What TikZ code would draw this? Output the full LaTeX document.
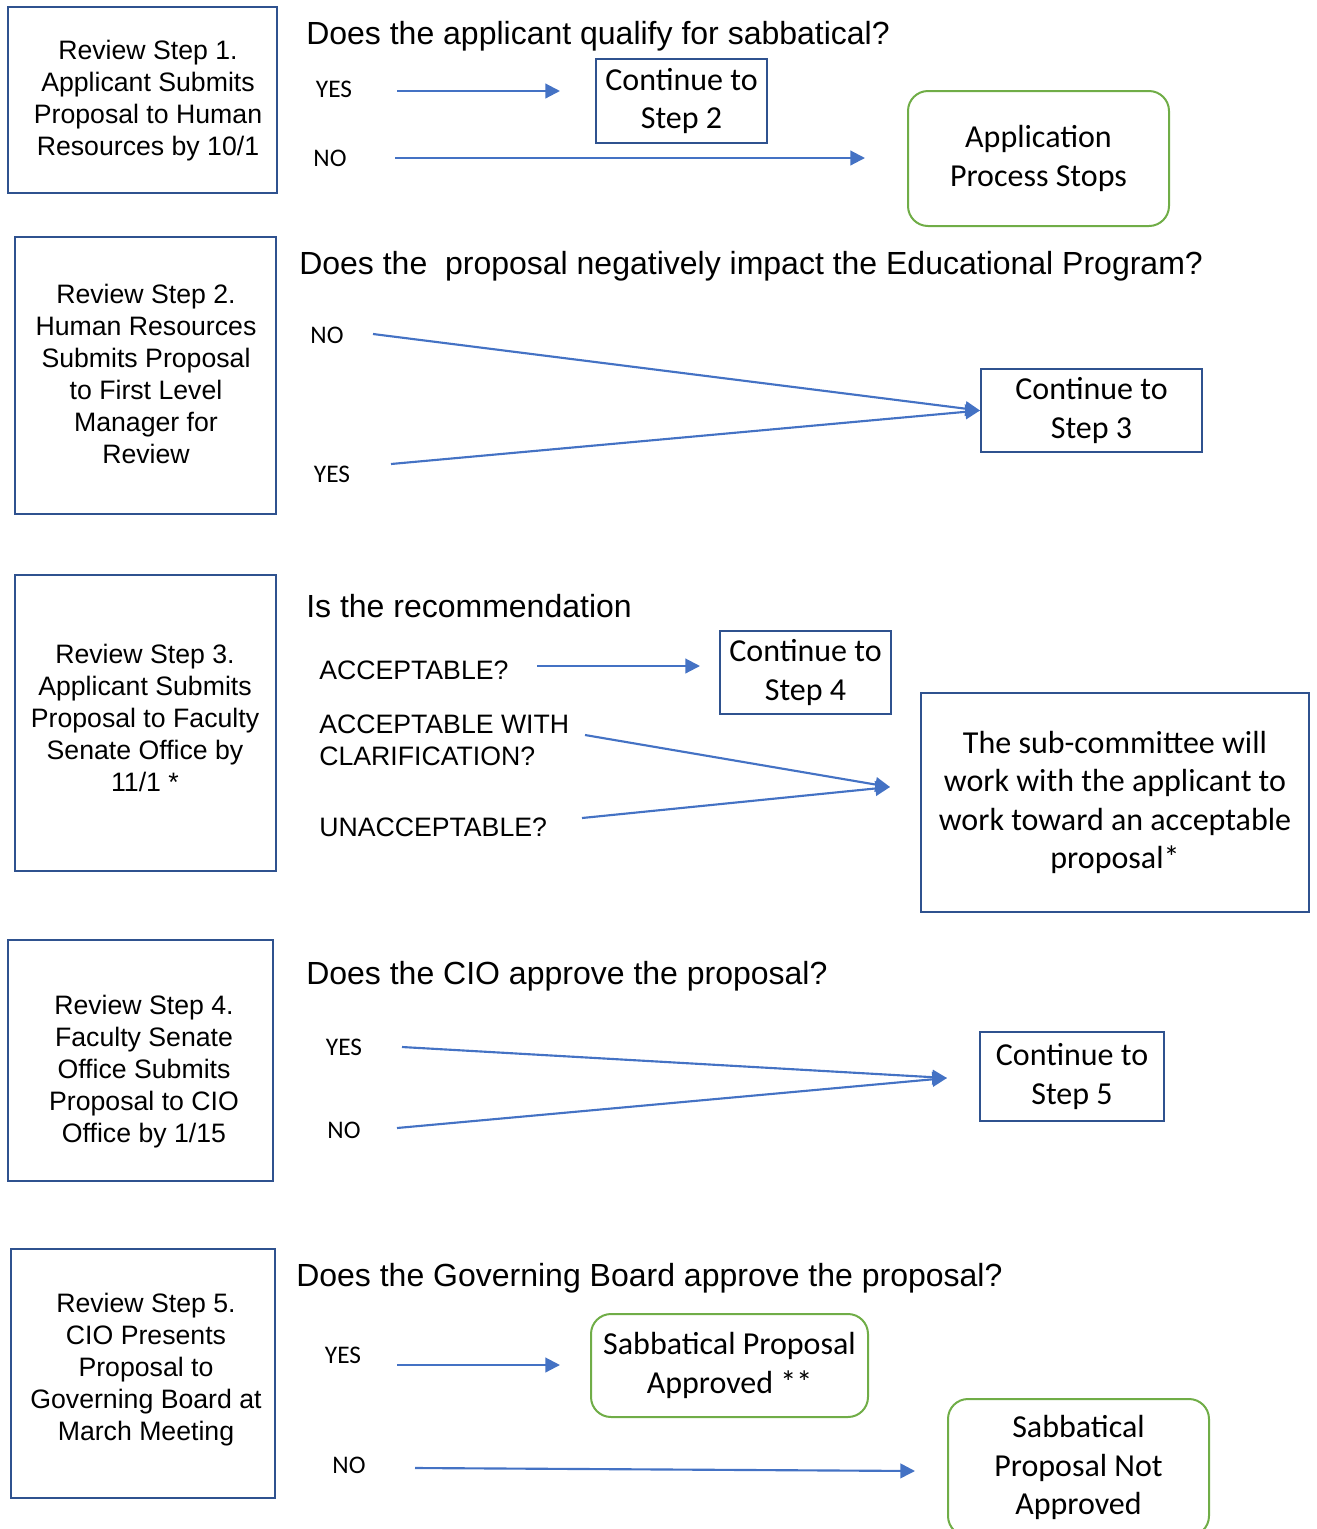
\documentclass[tikz,border=0pt]{standalone}
\usepackage{fontspec}
\setmainfont{Liberation Sans}
\newfontfamily\calibri{Carlito}
\usetikzlibrary{arrows.meta}

\definecolor{boxblue}{RGB}{47,82,143}
\definecolor{arrowblue}{RGB}{68,114,196}
\definecolor{endgreen}{RGB}{112,173,71}

\tikzset{
  stepbox/.style={draw=boxblue, line width=1.5pt, inner sep=0pt},
  steptext/.style={align=center, inner sep=0pt, font=\fontsize{20}{24}\selectfont},
  contbox/.style={draw=boxblue, line width=1.5pt, align=center, inner sep=0pt, font=\calibri\fontsize{24}{28.7}\selectfont},
  endbox/.style={draw=endgreen, line width=1.5pt, rounded corners=15pt, align=center, inner sep=0pt, font=\calibri\fontsize{24}{28.7}\selectfont},
  question/.style={anchor=west, inner sep=0pt, font=\fontsize{24}{28}\selectfont},
  answer/.style={inner sep=0pt, font=\calibri\fontsize{19}{22}\selectfont},
  choice/.style={anchor=west, align=left, inner sep=0pt, font=\fontsize{20}{24}\selectfont},
  flow/.style={draw=arrowblue, line width=1.6pt, -{Triangle[length=11pt,width=11pt]}},
}

\begin{document}
\begin{tikzpicture}[x=0.75pt,y=0.75pt,yscale=-1,xscale=1]
\useasboundingbox (0,0) rectangle (1317,1529);

% Review step 1
\node[stepbox, minimum width=201.75pt, minimum height=139.5pt] (step1) at (142.5,100) {};
\node[steptext] (step1txt) at (148,101) {Review Step 1.\\Applicant Submits\\Proposal to Human\\Resources by 10/1};
\node[question] (q1) at (306,36) {Does the applicant qualify for sabbatical?};
\node[answer] (yes1) at (334,89) {YES};
\node[answer] (no1) at (330,158) {NO};
\node[contbox, minimum width=128.25pt, minimum height=63pt] (cont2) at (681.5,101) {Continue to\\Step 2};
\node[endbox, minimum width=195.75pt, minimum height=101.25pt] (stops) at (1038.5,158.5) {Application\\Process Stops};
\coordinate (yes1s) at (397,91);
\coordinate (yes1e) at (560,91);
\coordinate (no1s) at (395,158);
\coordinate (no1e) at (865,158);
\draw[flow] (yes1s) -- (yes1e);
\draw[flow] (no1s) -- (no1e);

% Review step 2
\node[stepbox, minimum width=195.75pt, minimum height=207.75pt] (step2) at (145.5,375.5) {};
\node[steptext] (step2txt) at (146,374) {Review Step 2.\\Human Resources\\Submits Proposal\\to First Level\\Manager for\\Review};
\node[question] (q2) at (299,266) {Does the\ \ proposal negatively impact the Educational Program?};
\node[answer] (no2) at (327,335) {NO};
\node[answer] (yes2) at (332,474) {YES};
\node[contbox, minimum width=165.75pt, minimum height=62.25pt] (cont3) at (1091.5,410.5) {Continue to\\Step 3};
\coordinate (no2s) at (373,334);
\coordinate (yes2s) at (391,464);
\draw[flow] (no2s) -- (cont3.west);
\draw[flow] (yes2s) -- (cont3.west);

% Review step 3
\node[stepbox, minimum width=195.75pt, minimum height=222pt] (step3) at (145.5,723) {};
\node[steptext] (step3txt) at (145,718) {Review Step 3.\\Applicant Submits\\Proposal to Faculty\\Senate Office by\\11/1 *};
\node[question] (q3) at (306,606) {Is the recommendation};
\node[choice] (acc) at (319,670) {ACCEPTABLE?};
\node[choice] (accw) at (319,740) {ACCEPTABLE WITH\\CLARIFICATION?};
\node[choice] (unacc) at (319,827) {UNACCEPTABLE?};
\node[contbox, minimum width=128.25pt, minimum height=62.25pt] (cont4) at (805.5,672.5) {Continue to\\Step 4};
\node[contbox, minimum width=291pt, minimum height=164.25pt] (subc) at (1115,802.5) {The sub-committee will\\work with the applicant to\\work toward an acceptable\\proposal*};
\coordinate (accs) at (537,666);
\coordinate (acce) at (700,666);
\coordinate (accws) at (585,735);
\coordinate (unaccs) at (582,818);
\coordinate (subcin) at (890,787);
\draw[flow] (accs) -- (acce);
\draw[flow] (accws) -- (subcin);
\draw[flow] (unaccs) -- (subcin);

% Review step 4
\node[stepbox, minimum width=198.75pt, minimum height=180.75pt] (step4) at (140.5,1060.5) {};
\node[steptext] (step4txt) at (144,1072) {Review Step 4.\\Faculty Senate\\Office Submits\\Proposal to CIO\\Office by 1/15};
\node[question] (q4) at (306,976) {Does the CIO approve the proposal?};
\node[answer] (yes4) at (344,1047) {YES};
\node[answer] (no4) at (344,1130) {NO};
\node[contbox, minimum width=138pt, minimum height=66.75pt] (cont5) at (1072,1076.5) {Continue to\\Step 5};
\coordinate (yes4s) at (402,1047);
\coordinate (no4s) at (397,1128);
\coordinate (cont5in) at (947,1078);
\draw[flow] (yes4s) -- (cont5in);
\draw[flow] (no4s) -- (cont5in);

% Review step 5
\node[stepbox, minimum width=198pt, minimum height=186.75pt] (step5) at (143,1373.5) {};
\node[steptext] (step5txt) at (146,1370) {Review Step 5.\\CIO Presents\\Proposal to\\Governing Board at\\March Meeting};
\node[question] (q5) at (296,1278) {Does the Governing Board approve the proposal?};
\node[answer] (yes5) at (343,1355) {YES};
\node[answer] (no5) at (349,1465) {NO};
\node[endbox, minimum width=207.75pt, minimum height=77.25pt] (approved) at (729.5,1365.5) {Sabbatical Proposal\\Approved **};
\node[endbox, minimum width=195.75pt, minimum height=102.75pt] (notapproved) at (1078.5,1467.5) {Sabbatical\\Proposal Not\\Approved};
\coordinate (yes5s) at (397,1365);
\coordinate (yes5e) at (560,1365);
\coordinate (no5s) at (415,1468);
\coordinate (no5e) at (915,1471);
\draw[flow] (yes5s) -- (yes5e);
\draw[flow] (no5s) -- (no5e);

\end{tikzpicture}
\end{document}
